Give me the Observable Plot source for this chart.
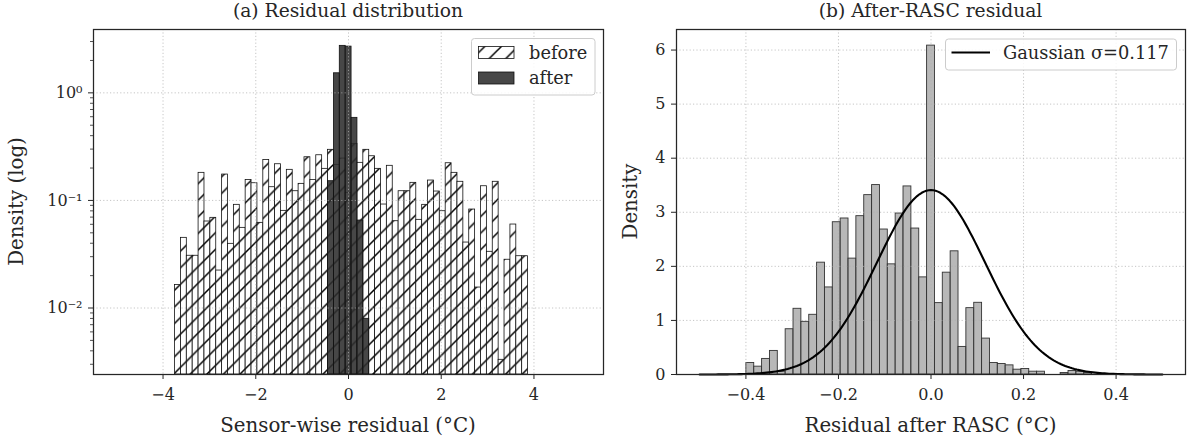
<!DOCTYPE html>
<html><head><meta charset="utf-8">
<script src="https://cdn.jsdelivr.net/npm/d3@7"></script>
<script src="https://cdn.jsdelivr.net/npm/@observablehq/plot@0.6"></script>
<style>
body{margin:0;background:#fff;}
#wrap{position:relative;width:1192px;height:438px;overflow:hidden;background:#fff;}
#wrap > svg{position:absolute;top:0;}
</style></head><body>
<svg width="0" height="0" style="position:absolute">
<defs>
<pattern id="hatch" patternUnits="userSpaceOnUse" width="16.6" height="16.6">
<rect width="16.6" height="16.6" fill="white"/>
<path d="M-4.15,4.15 L4.15,-4.15 M0,16.6 L16.6,0 M12.45,20.75 L20.75,12.45" stroke="black" stroke-width="1.5"/>
</pattern>
</defs>
</svg>
<div id="wrap"></div>
<script>
// ---------- data ----------
// (a) sensor-wise residual histogram, shared bins
const beforeBinStart = -3.741;
const beforeBinWidth = 0.1269;
const beforeDensity = [
  0.0164,0.0449,0.0306,0.0306,0.1805,0.0637,0.0689,0.0223,0.174,0.0395,
  0.0910,0.0556,0.155,0.1445,0.0619,0.238,0.1327,0.217,0.080,0.1925,
  0.1218,0.1426,0.252,0.155,0.263,0.1966,0.2954,0.2142,0.245,0.1177,
  0.3357,0.2236,0.2954,0.2575,0.1966,0.0916,0.2098,0.0641,0.1218,0.1218,
  0.1457,0.0660,0.0910,0.1531,0.121,0.0794,0.2217,0.1805,0.149,0.0406,
  0.0823,0.0155,0.1355,0.0333,0.149,0.0033,0.0281,0.0597,0.0303,0.0303];
const afterFirstBin = 26;
const afterDensity = [0.1509,1.52,2.734,2.69,0.5857,0.065,0.00794];

// (b) after-RASC residual histogram
const rascBinStart = -0.399;
const rascBinWidth = 0.01698;
const rascDensity = [
  0.213,0.145,0.288,0.436,0.052,0.837,1.215,0.974,1.104,2.068,
  1.610,2.816,2.885,2.143,2.928,3.317,3.503,2.681,2.037,2.977,
  3.478,2.699,1.796,6.082,1.320,1.883,2.278,0.510,1.227,1.326,
  0.664,0.213,0.195,0.169,0.089,0.102,0.052,0.052,0,0,
  0.028,0.065,0.052,0.030];
const gaussMean = 0;
const gaussSigma = 0.117;
const gaussRange = [-0.5, 0.5];

// ticks
const leftXTicks = [-4,-2,0,2,4];
const leftXTickLabels = ["\u22124","\u22122","0","2","4"];
const leftYTicks = [0.01,0.1,1];
const leftYTickLabels = ["10\u207B\u00B2","10\u207B\u00B9","10\u2070"];
const rightXTicks = [-0.4,-0.2,0,0.2,0.4];
const rightXTickLabels = ["\u22120.4","\u22120.2","0.0","0.2","0.4"];
const rightYTicks = [0,1,2,3,4,5,6];

// ---------- build ----------
const INK = "#262626";
const FONT = "DejaVu Serif";
const TICKFS = 16;

const beforeRows = beforeDensity.map((v,i)=>({x1: beforeBinStart+i*beforeBinWidth, x2: beforeBinStart+(i+1)*beforeBinWidth, y: v}));
const afterRows = afterDensity.map((v,i)=>({x1: beforeBinStart+(afterFirstBin+i)*beforeBinWidth, x2: beforeBinStart+(afterFirstBin+i+1)*beforeBinWidth, y: v}));
const rascRows = rascDensity.map((v,i)=>({x1: rascBinStart+i*rascBinWidth, x2: rascBinStart+(i+1)*rascBinWidth, y: v})).filter(d=>d.y>0);
const gaussRows = d3.range(0,201).map(i=>{
  const x = gaussRange[0] + (gaussRange[1]-gaussRange[0])*i/200;
  return {x, y: Math.exp(-0.5*((x-gaussMean)/gaussSigma)**2)/(gaussSigma*Math.sqrt(2*Math.PI))};
});

const leftYDomain = [0.00241, 3.88];
const minorY = [];
for (const dec of [0.001,0.01,0.1,1]) for (let m=2;m<=9;m++){const v=m*dec; if(v>leftYDomain[0]&&v<leftYDomain[1]) minorY.push(v);}

const gridStyle = {stroke:"#b0b0b0", strokeOpacity:0.8, strokeWidth:0.9, strokeDasharray:"1.2,2.2"};

const left = Plot.plot({
  width: 610, height: 438,
  marginLeft: 93, marginRight: 7, marginTop: 29, marginBottom: 64,
  style: {fontFamily: FONT, fontSize: TICKFS+"px", color: INK, background: "transparent", overflow:"visible"},
  x: {domain: [-5.5, 5.5]},
  y: {type: "log", domain: leftYDomain},
  marks: [
    Plot.rect(beforeRows, {x1:"x1", x2:"x2", y1: leftYDomain[0], y2:"y", fill:"url(#hatch)", stroke:"#111", strokeWidth:0.8}),
    Plot.rect(afterRows, {x1:"x1", x2:"x2", y1: leftYDomain[0], y2:"y", fill:"#2e2e2e", fillOpacity:0.88, stroke:"#111", strokeWidth:0.8}),
    Plot.gridX(leftXTicks, gridStyle),
    Plot.gridY(leftYTicks, gridStyle),
    Plot.axisX(leftXTicks, {tickSize:5, tickPadding:9, tickFormat:(d)=>leftXTickLabels[leftXTicks.indexOf(d)], label:null, stroke:INK, fill:INK, fontSize:TICKFS}),
    Plot.axisY(leftYTicks, {tickSize:5, tickPadding:6, tickFormat:(d)=>leftYTickLabels[leftYTicks.indexOf(d)], label:null, stroke:INK, fill:INK, fontSize:TICKFS}),
    Plot.axisY(minorY, {tickSize:3, tickPadding:0, tickFormat:()=>"", label:null, stroke:INK, strokeWidth:0.8}),
    Plot.frame({stroke: INK, strokeWidth: 1.25})
  ]
});
left.style.left = "0px";

const right = Plot.plot({
  width: 582, height: 438,
  marginLeft: 66, marginRight: 7, marginTop: 29, marginBottom: 64,
  style: {fontFamily: FONT, fontSize: TICKFS+"px", color: INK, background: "transparent", overflow:"visible"},
  x: {domain: [-0.55, 0.55]},
  y: {domain: [0, 6.38]},
  marks: [
    Plot.rect(rascRows, {x1:"x1", x2:"x2", y1:0, y2:"y", fill:"#a0a0a0", fillOpacity:0.75, stroke:"#333", strokeWidth:0.9}),
    Plot.gridX(rightXTicks, gridStyle),
    Plot.gridY(rightYTicks.filter(d=>d>0), gridStyle),
    Plot.line(gaussRows, {x:"x", y:"y", stroke:"black", strokeWidth:2.1}),
    Plot.axisX(rightXTicks, {tickSize:5, tickPadding:9, tickFormat:(d)=>rightXTickLabels[rightXTicks.indexOf(d)], label:null, stroke:INK, fill:INK, fontSize:TICKFS}),
    Plot.axisY(rightYTicks, {tickSize:5, tickPadding:6, tickFormat:d=>String(d), label:null, stroke:INK, fill:INK, fontSize:TICKFS}),
    Plot.frame({stroke: INK, strokeWidth: 1.25})
  ]
});
right.style.left = "610px";

const wrap = document.getElementById("wrap");
wrap.appendChild(left);
wrap.appendChild(right);

// overlay: titles, axis labels, legends
const ov = d3.select(wrap).append("svg").attr("width",1192).attr("height",438)
  .style("position","absolute").style("left","0px").style("top","0px")
  .attr("font-family", FONT).attr("fill", INK);

function txt(x,y,s,size,anchor,rot){
  const t = ov.append("text").attr("x",x).attr("y",y).attr("font-size",size).attr("text-anchor",anchor||"middle").text(s);
  if (rot) t.attr("transform",`rotate(${rot},${x},${y})`);
  return t;
}
txt(348, 17, "(a) Residual distribution", 18.7);
txt(930.5, 17, "(b) After-RASC residual", 18.7);
txt(348, 432, "Sensor-wise residual (\u00B0C)", 19.8);
txt(930.5, 432, "Residual after RASC (\u00B0C)", 19.8);
txt(22.5, 201.5, "Density (log)", 19.8, "middle", -90);
txt(637, 201.5, "Density", 19.8, "middle", -90);

// left legend
ov.append("rect").attr("x",471.5).attr("y",38.5).attr("width",123.5).attr("height",56.5).attr("rx",3)
  .attr("fill","white").attr("fill-opacity",0.85).attr("stroke","#cccccc").attr("stroke-width",1);
ov.append("rect").attr("x",478.5).attr("y",46.5).attr("width",35.5).attr("height",12).attr("fill","url(#hatch)").attr("stroke","#111").attr("stroke-width",0.8);
ov.append("rect").attr("x",478.5).attr("y",72).attr("width",35.5).attr("height",12).attr("fill","#2e2e2e").attr("fill-opacity",0.88).attr("stroke","#111").attr("stroke-width",0.8);
txt(529, 58.5, "before", 17.8, "start");
txt(529, 83.5, "after", 17.8, "start");

// right legend
ov.append("rect").attr("x",945.5).attr("y",39).attr("width",231).attr("height",31).attr("rx",3)
  .attr("fill","white").attr("fill-opacity",0.85).attr("stroke","#cccccc").attr("stroke-width",1);
ov.append("line").attr("x1",951.5).attr("x2",990).attr("y1",52.5).attr("y2",52.5).attr("stroke","black").attr("stroke-width",2.1);
txt(1003, 58.5, "Gaussian \u03C3=0.117", 17.8, "start");
</script>
</body></html>
